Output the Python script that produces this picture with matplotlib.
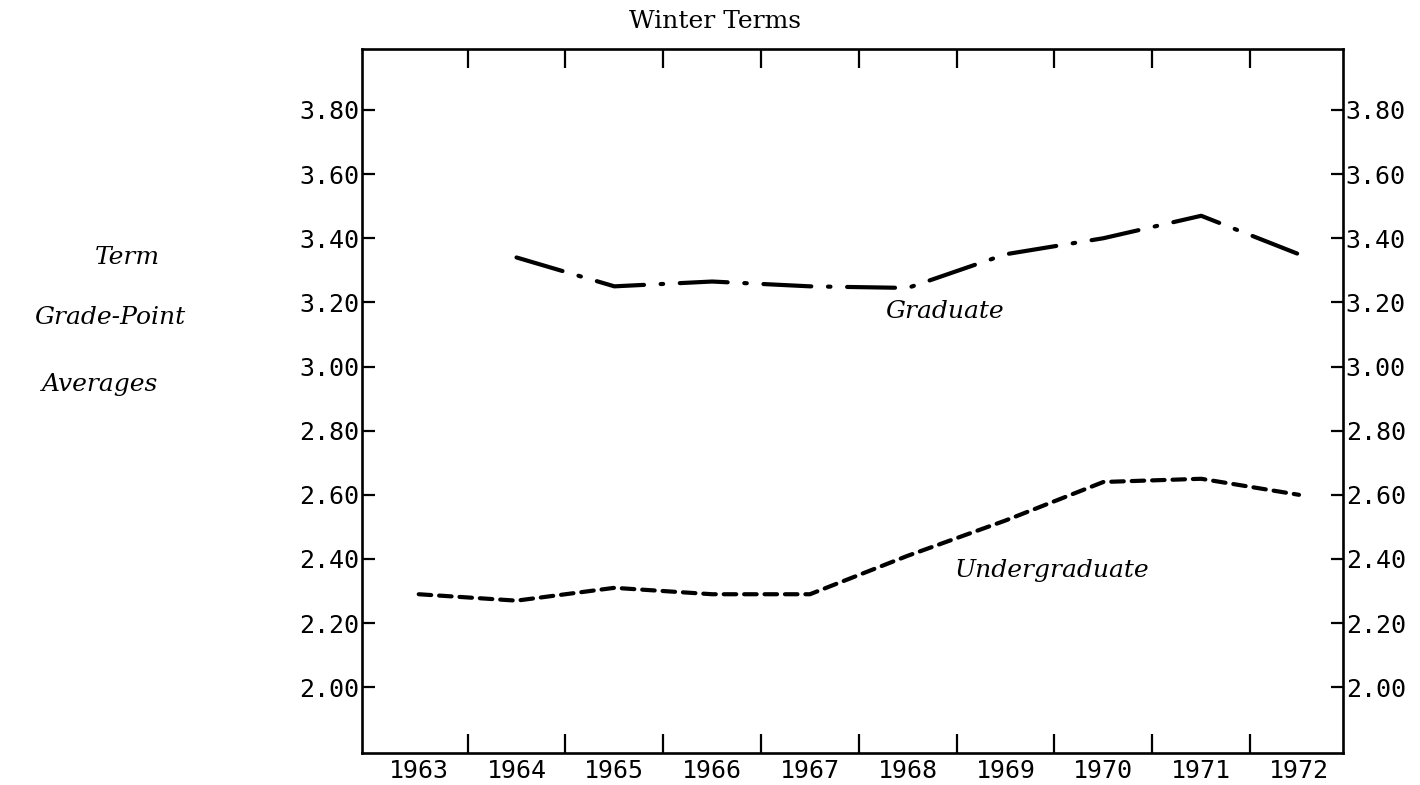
import matplotlib
matplotlib.use("Agg")
import matplotlib.pyplot as plt

years = [1963, 1964, 1965, 1966, 1967, 1968, 1969, 1970, 1971, 1972]
undergrad = [2.29, 2.27, 2.31, 2.29, 2.29, 2.41, 2.52, 2.64, 2.65, 2.60]
grad_years = [1964, 1965, 1966, 1967, 1968, 1969, 1970, 1971, 1972]
graduate = [3.34, 3.25, 3.265, 3.25, 3.245, 3.35, 3.40, 3.47, 3.35]
yticks = [2.00, 2.20, 2.40, 2.60, 2.80, 3.00, 3.20, 3.40, 3.60, 3.80]
ytick_labels = ["2.00", "2.20", "2.40", "2.60", "2.80", "3.00", "3.20", "3.40", "3.60", "3.80"]
title = "Winter Terms"
ylabel_lines = ["Term", "Grade-Point", "Averages"]

W, H = 1420, 785
fig = plt.figure(figsize=(W / 100, H / 100), dpi=100)
fig.patch.set_facecolor("white")

L, R, T, B = 362, 1343, 49, 753
ax = fig.add_axes([L / W, 1 - B / H, (R - L) / W, (B - T) / H])
ax.set_xlim(1962.42, 1972.45)
ax.set_ylim(1.795, 3.99)

tick_font = dict(family="DejaVu Sans Mono", size=18)
serif = "DejaVu Serif"

# lines
ax.plot(years, undergrad, color="black", lw=3.0, dashes=(3.0, 1.9),
        dash_capstyle="round")
ax.plot(grad_years, graduate, color="black", lw=3.0, dashes=(11.5, 4.0, 0.6, 4.0),
        dash_capstyle="round")

# spines
for s in ax.spines.values():
    s.set_linewidth(1.9)
    s.set_color("black")

# y ticks
ax.set_yticks(yticks)
ax.set_yticklabels(ytick_labels, **tick_font)
ax.tick_params(axis="y", which="both", direction="in", length=9, width=1.6,
               left=True, right=True, labelleft=True, labelright=True, pad=2)

# x ticks: marks at boundaries, labels at year centres
bounds = [y + 0.5 for y in years[:-1]]
ax.set_xticks(bounds)
ax.set_xticklabels([])
ax.set_xticks(years, minor=True)
ax.set_xticklabels([str(y) for y in years], minor=True, **tick_font)
ax.tick_params(axis="x", which="major", direction="in", length=14, width=1.6,
               top=True, bottom=True)
ax.tick_params(axis="x", which="minor", length=0, pad=4)

# series labels
ax.text(1968.38, 3.17, "Graduate", family=serif, style="italic",
        fontsize=18, ha="center", va="center")
ax.text(1969.47, 2.363, "Undergraduate", family=serif, style="italic",
        fontsize=18, ha="center", va="center")

# title
fig.text(715 / W, 1 - 22 / H, title, family=serif, fontsize=18,
         ha="center", va="center")

# left axis label
ys = [258, 318, 385]
xs = [95, 34, 42]
for txt, x, y in zip(ylabel_lines, xs, ys):
    fig.text(x / W, 1 - y / H, txt, family=serif, style="italic",
             fontsize=18, ha="left", va="center")

fig.savefig("out.png", dpi=100, facecolor="white")
